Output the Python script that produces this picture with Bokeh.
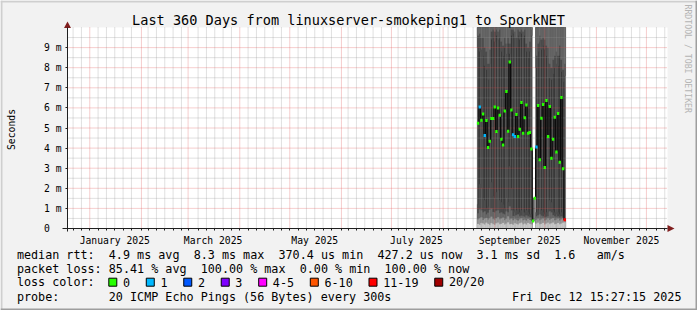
import math
import pandas as pd
from bokeh.plotting import figure
from bokeh.models import Range1d, FixedTicker, Label, LinearAxis, ColumnDataSource
from bokeh.embed import file_html
from bokeh.resources import INLINE

nan = float("nan")

# ---------------- data ----------------
title_text = "Last 360 Days from linuxserver-smokeping1 to SporkNET"
range_start = "2024-12-18 15:27:15"
range_end = "2025-12-13 15:27:15"
first_day = "2025-08-22"

# daily median RTT (ms)
median_ms = [5.24, 6.04, 5.39, 5.70, 4.63, 5.37, 4.03, 4.34, 5.47, 5.47,
             6.05, 4.83, 6.00, 5.64, 4.44, 4.16, 5.85, 6.82, 4.84, 8.28,
             5.90, 4.66, 4.58, 5.67, 4.58, 4.94, 6.27, 4.74, 5.51, 6.14,
             4.74, 4.78, 3.95, 0.37, 1.51, 4.05, 6.12, 3.42, 5.49, 6.17,
             3.03, 6.37, 4.58, 6.07, 3.50, 4.44, 5.54, 3.81, 5.72, 3.30,
             6.52, 2.97, 0.43]
# lost pings out of 20
loss_pings = [0, 1, 0, 0, 1, 0, 0, 0, 0, 0,
              0, 0, 0, 0, 0, 0, 0, 0, 0, 0,
              0, 1, 1, 0, 0, 0, 0, 0, 0, 0,
              0, 0, 0, 0, 0, 1, 0, 0, 0, 0,
              0, 0, 0, 0, 0, 0, 0, 0, 0, 0,
              0, 0, 15]
# smoke: low-ping band edges (ms)
smoke_lo1 = [0.22, 0.18, 0.27, 0.24, 0.19, 0.28, 0.23, 0.17, 0.26, 0.21,
             0.18, 0.25, 0.29, 0.20, 0.23, 0.27, 0.19, 0.24, 0.30, 0.20,
             0.22, 0.18, 0.26, 0.23, 0.19, 0.25, 0.28, 0.20, 0.24, 0.19,
             0.27, 0.23, 0.20, nan, nan, 0.24, 0.28, 0.20, 0.23, 0.27,
             0.19, 0.24, 0.28, 0.21, 0.25, 0.29, 0.20, 0.23, 0.27, 0.20,
             0.24, 0.28, 0.30]
smoke_lo2 = [0.45, 0.50, 0.55, 0.42, 0.48, 0.52, 0.44, 0.50, 0.58, 0.46,
             0.43, 0.50, 0.56, 0.45, 0.49, 0.53, 0.41, 0.47, 0.60, 0.44,
             0.48, 0.40, 0.46, 0.43, 0.38, 0.45, 0.50, 0.40, 0.44, 0.39,
             0.47, 0.42, 0.40, nan, nan, 0.43, 0.48, 0.40, 0.45, 0.49,
             0.38, 0.44, 0.50, 0.42, 0.47, 0.51, 0.40, 0.44, 0.48, 0.39,
             0.45, 0.50, 0.42]
smoke_lo3 = [0.75, 0.95, 0.90, 0.80, 0.85, 0.70, 0.78, 0.92, 1.00, 0.82,
             0.80, 0.88, 0.90, 0.76, 0.80, 0.74, 0.70, 0.84, 0.80, 1.10,
             0.90, 0.62, 0.60, 0.66, 0.70, 0.60, 0.64, 0.60, 0.58, 0.65,
             0.60, 0.56, 0.55, nan, nan, 0.60, 0.65, 0.70, 0.64, 0.60,
             0.55, 0.58, 0.60, 0.85, 0.80, 0.66, 0.60, 0.55, 0.60, 0.54,
             0.60, 0.55, 0.45]
smoke_lo4 = [1.2, 2.2, 2.0, 1.5, 1.4, 1.0, 1.1, 2.0, 2.3, 1.6,
             1.5, 1.8, 1.9, 1.4, 1.3, 1.2, 1.0, 1.5, 1.3, 3.1,
             2.0, 0.9, 0.8, 0.9, 1.0, 0.8, 0.9, 0.8, 0.8, 0.9,
             0.8, 0.7, 0.7, nan, nan, 0.8, 0.9, 1.0, 0.9, 0.8,
             0.7, 0.8, 0.8, 1.4, 1.3, 0.9, 0.8, 0.7, 0.8, 0.7,
             0.8, 0.7, 0.5]
# smoke: high-ping band edges (ms)
smoke_hi2 = [9.0, 8.8, 8.9, 8.6, 8.1, 7.9, 7.4, 8.2, 9.4, 9.5,
             9.3, 9.6, 9.4, 9.5, 8.8, 8.6, 9.0, 8.7, 9.2, 8.7,
             9.6, 9.7, 9.5, 9.0, 9.6, 9.4, 9.7, 9.5, 9.6, 8.8,
             8.5, 8.8, 9.6, nan, nan, 8.0, 8.8, 9.3, 8.9, 9.1,
             8.9, 8.6, 8.5, 7.5, 7.4, 7.7, 8.0, 8.2, 8.1, 8.6,
             7.8, 7.3, 7.6]
smoke_hi1 = [9.6, 9.7, 9.5, 9.5, 9.0, 8.8, 8.2, 8.9, 9.8, 9.9,
             9.8, 9.9, 9.8, 9.9, 9.3, 9.1, 9.5, 9.2, 9.5, 9.2,
             9.9, 9.9, 9.8, 9.5, 9.9, 9.8, 9.9, 9.8, 9.9, 9.2,
             9.0, 9.3, 9.9, nan, nan, 8.6, 9.2, 9.6, 9.4, 9.5,
             9.4, 9.1, 9.0, 8.2, 8.0, 8.4, 8.6, 8.8, 8.6, 9.1,
             8.4, 7.9, 8.2]

y_ticks = [0, 1, 2, 3, 4, 5, 6, 7, 8, 9]
y_tick_labels = ["0\u00a0\u00a0", "1 m", "2 m", "3 m", "4 m", "5 m", "6 m", "7 m", "8 m", "9 m"]
x_label_months = ["2025-01-01", "2025-03-01", "2025-05-01", "2025-07-01", "2025-09-01", "2025-11-01"]
x_tick_labels = ["January 2025", "March 2025", "May 2025", "July 2025", "September 2025", "November 2025"]

loss_classes = ["0", "1", "2", "3", "4-5", "6-10", "11-19", "20/20"]
loss_class_max = [0, 1, 2, 3, 5, 10, 19, 20]
loss_colors = ["#26ff00", "#00b8ff", "#0059ff", "#7e00ff", "#ff00ff", "#ff5500", "#ff0000", "#a10000"]

rtt_stats = ["4.9 ms avg", "8.3 ms max", "370.4 us min", "427.2 us now", "3.1 ms sd", "1.6", "am/s"]
loss_stats = ["85.41 % avg", "100.00 % max", "0.00 % min", "100.00 % now"]
probe_text = "20 ICMP Echo Pings (56 Bytes) every 300s"
stamp_text = "Fri Dec 12 15:27:15 2025"
watermark_text = "RRDTOOL / TOBI OETIKER"

# ---------------- geometry ----------------
W, H = 697, 310
FL, FR, FT, FB = 67, 667, 27, 228        # plot area on the canvas (px)
Y_MAX = 10.0
DAY = 86400000.0


def ms(t):
    return pd.Timestamp(t).value / 1e6


x0, x1 = ms(range_start), ms(range_end)
SX = (x1 - x0) / (FR - FL)


def X(px):   # canvas px -> data x
    return x0 + (px - FL) * SX


def Y(py):   # canvas px -> data y
    return Y_MAX * (FB - py) / (FB - FT)


days = [ms(d) for d in pd.date_range(first_day, periods=len(median_ms), freq="D")]

p = figure(width=W, height=H, output_backend="svg", toolbar_location=None,
           x_axis_type=None, y_axis_type=None,
           x_range=Range1d(X(0), X(W)), y_range=Range1d(Y(H), Y(0)),
           min_border=0, min_border_left=0, min_border_right=0,
           min_border_top=0, min_border_bottom=0,
           background_fill_color="#f2f2f2", border_fill_color="#f2f2f2",
           outline_line_color=None)
p.xgrid.visible = False
p.ygrid.visible = False

# plot canvas
p.quad(left=[x0], right=[x1], bottom=[0], top=[Y_MAX], fill_color="white",
       line_color=None, level="image")

# ---- smoke ----
left = [d - DAY / 2 for d in days]
right = [d + DAY / 2 for d in days]
valid = [0.0 if not math.isnan(v) else nan for v in smoke_lo1]
top_all = [Y_MAX if not math.isnan(v) else nan for v in smoke_lo1]


def band(bottom, top, color):
    p.quad(left=left, right=right, bottom=bottom, top=top, fill_color=color,
           line_color=color, line_width=0.3, level="image")


band(valid, top_all, "#3a3a3a")
band(smoke_hi2, top_all, "#4d4d4d")
band(smoke_hi1, top_all, "#676767")
band(valid, smoke_lo4, "#4c4c4c")
band(valid, smoke_lo3, "#6a6a6a")
band(valid, smoke_lo2, "#989898")
band(valid, smoke_lo1, "#cacaca")

# ---- grid (dotted, drawn over the smoke) ----
month_starts = [ms(d) for d in pd.date_range("2025-01-01", "2025-12-01", freq="MS")]
minor_days = [ms(d) for d in pd.date_range("2024-12-22", "2025-12-12", freq="5D")]
minor_days = [d for d in minor_days if all(abs(d - m) > DAY for m in month_starts)]
y_minor = [t + 0.5 for t in y_ticks]

p.segment(x0=minor_days, x1=minor_days, y0=[0] * len(minor_days), y1=[Y_MAX] * len(minor_days),
          line_color="#8f8f8f", line_alpha=0.55, line_dash="1 1", level="underlay")
p.segment(x0=[x0] * len(y_minor), x1=[x1] * len(y_minor), y0=y_minor, y1=y_minor,
          line_color="#8f8f8f", line_alpha=0.55, line_dash="1 1", level="underlay")
p.segment(x0=month_starts, x1=month_starts, y0=[0] * len(month_starts),
          y1=[Y_MAX] * len(month_starts),
          line_color="#de4f4f", line_alpha=0.55, line_dash="1 1", level="underlay")
p.segment(x0=[x0] * 9, x1=[x1] * 9, y0=y_ticks[1:], y1=y_ticks[1:],
          line_color="#de4f4f", line_alpha=0.55, line_dash="1 1", level="underlay")

# ---- median line & loss-coloured marks ----
p.step(x=days, y=median_ms, mode="center", line_color="#0c0c0c", line_width=1.2)


def loss_color(n):
    for mx, c in zip(loss_class_max, loss_colors):
        if n <= mx:
            return c
    return loss_colors[-1]


src = ColumnDataSource(dict(x=days, y=median_ms, c=[loss_color(n) for n in loss_pings]))
p.rect(x="x", y="y", width=2.4, height=3, width_units="screen", height_units="screen",
       fill_color="c", line_color=None, source=src)

# ---- axes (fixed at the plot-area edges) ----
label_ticks = [ms(d) + 15 * DAY for d in x_label_months]
xaxis = LinearAxis(fixed_location=0, bounds=(X(62), x1),
                   ticker=FixedTicker(ticks=label_ticks, minor_ticks=month_starts + minor_days),
                   major_label_overrides={t: s for t, s in zip(label_ticks, x_tick_labels)},
                   axis_line_color="#1f1f1f", major_tick_out=0, major_tick_in=0,
                   minor_tick_out=2, minor_tick_in=0, minor_tick_line_color="#1f1f1f",
                   major_label_standoff=4,
                   major_label_text_font="DejaVu Sans Mono",
                   major_label_text_font_size="9.72px", major_label_text_color="black")
yaxis = LinearAxis(fixed_location=x0, bounds=(Y(231), Y(26.5)),
                   ticker=FixedTicker(ticks=y_ticks),
                   major_label_overrides={t: s for t, s in zip(y_ticks, y_tick_labels)},
                   axis_line_color="#1f1f1f", major_tick_out=2, major_tick_in=0,
                   major_tick_line_color="#1f1f1f",
                   minor_tick_out=0, minor_tick_in=0, major_label_standoff=4,
                   major_label_text_font="DejaVu Sans Mono",
                   major_label_text_font_size="9.72px", major_label_text_color="black",
                   axis_label="Seconds", axis_label_text_font="DejaVu Sans Mono",
                   axis_label_text_font_size="9.72px", axis_label_text_font_style="normal",
                   axis_label_text_color="black", axis_label_standoff=24)
p.add_layout(xaxis, "below")
p.add_layout(yaxis, "left")

# arrows
p.patches(xs=[[X(63.5), X(67), X(70.5)], [X(667), X(674), X(667)]],
          ys=[[Y(27.5), Y(21.0), Y(27.5)], [Y(224.5), Y(228), Y(231.5)]],
          fill_color="#801f1f", line_color=None)

# canvas 3D frame
p.quad(left=[X(0), X(0), X(W - 2), X(0)], right=[X(W), X(2), X(W), X(W)],
       bottom=[Y(2), Y(H), Y(H), Y(H)], top=[Y(0), Y(0), Y(0), Y(H - 2)],
       fill_color=["#cfcfcf", "#cfcfcf", "#9e9e9e", "#9e9e9e"], line_color=None)

# ---- texts ----
FONT = "DejaVu Sans Mono"


def text(px, py, s, align="left", size="11.74px", color="black", angle=0.0):
    p.add_layout(Label(x=X(px), y=Y(py), text=s, text_font=FONT, text_font_size=size,
                       text_color=color, text_align=align, text_baseline="middle",
                       angle=angle))


text(348, 19, title_text, align="center", size="13.57px")

CW = 7.07
LX = 16.4
ROW1, ROW2, ROW3, ROW4 = 254.3, 268.3, 281.7, 296.0
text(LX, ROW1, "median rtt:")
for col, s in zip([13, 25, 37, 51, 65, 76, 82], rtt_stats):
    text(LX + col * CW, ROW1, s)
text(LX, ROW2, "packet loss:")
for col, s in zip([13, 26, 40, 52], loss_stats):
    text(LX + col * CW, ROW2, s)
text(LX, ROW3, "loss color:")
bx = LX + 13 * CW
box_l, box_r, box_c = [], [], []
for name, col in zip(loss_classes, loss_colors):
    box_l.append(X(bx))
    box_r.append(X(bx + 8))
    box_c.append(col)
    text(bx + 2 * CW, ROW3, name)
    bx += (len(name) + 4.3) * CW
p.quad(left=box_l, right=box_r, bottom=[Y(ROW3 + 4)] * len(box_l), top=[Y(ROW3 - 4)] * len(box_l),
       fill_color=box_c, line_color="black", line_width=1)
text(LX, ROW4, "probe:")
text(LX + 13 * CW, ROW4, probe_text)
text(681, ROW4, stamp_text, align="right")

# watermark
text(687.5, 4, watermark_text, size="8.2px", color="#b4b4b4", angle=-math.pi / 2)

open("out.html", "w").write(file_html(p, INLINE))
